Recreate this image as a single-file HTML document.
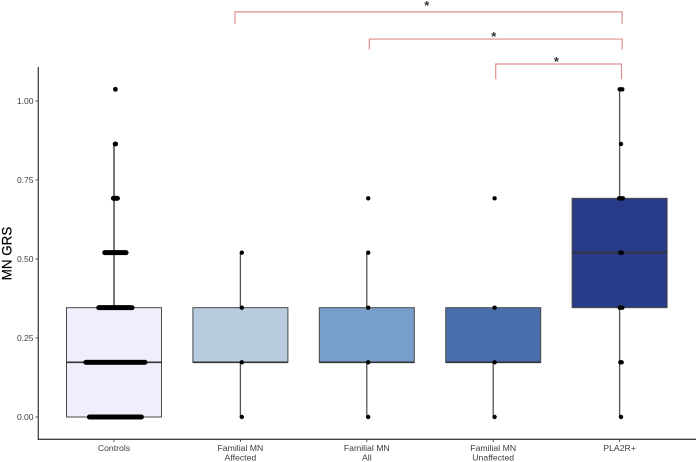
<!DOCTYPE html>
<html>
<head>
<meta charset="utf-8">
<style>
html,body{margin:0;padding:0;background:#fff;width:697px;height:462px;overflow:hidden}
svg{display:block;filter:blur(0.35px)}
text{font-family:"Liberation Sans",sans-serif}
</style>
</head>
<body>
<svg id="chart" width="697" height="462" viewBox="0 0 697 462" xmlns="http://www.w3.org/2000/svg"></svg>
<script>
const categories = [["Controls"],["Familial MN","Affected"],["Familial MN","All"],["Familial MN","Unaffected"],["PLA2R+"]];
const fills = ["#eeeefd","#b9cbdf","#789ecb","#4a6eab","#283b88"];
const q1 = [0,0.173,0.173,0.173,0.346];
const medians = [0.173,0.173,0.173,0.173,0.52];
const q3 = [0.346,0.346,0.346,0.346,0.692];
const whiskerLow = [0,0,0,0,0];
const whiskerHigh = [0.864,0.52,0.52,0.346,1.037];
const levels = [0,0.173,0.346,0.52,0.692,0.864,1.037];
const countsControls = [88,100,57,37,8,2,1];
const countsAffected = [1,1,1,1,0,0,0];
const countsAll = [1,1,1,1,1,0,0];
const countsUnaffected = [1,1,1,0,1,0,0];
const countsPla2r = [1,2,3,2,4,1,3];
const yTicks = [0,0.25,0.5,0.75,1];
const yTickLabels = ["0.00","0.25","0.50","0.75","1.00"];
const bracketFrom = [0.957,2.02,3.02];
const bracketTo = [4.02,4.02,4.015];
const bracketLevel = [1.282,1.196,1.117];
const bracketDrop = [0.038,0.033,0.048];
const starAt = [2.475,3.005,3.5];
const starLift = [1.7,-2,-1.8];

const svg = document.getElementById('chart');
const NS = 'http://www.w3.org/2000/svg';
const x = i => 114 + i * 126.4;
const y = v => 417 - v * 316;
const dotOffset = 1.4, dotGap = 0.6, dotR = 2.4;

function mk(tag, attrs, parent){
  const el = document.createElementNS(NS, tag);
  for (const k in attrs) el.setAttribute(k, attrs[k]);
  (parent || svg).appendChild(el);
  return el;
}

// axes
const yAxis = mk('line',{x1:38.3,x2:38.3,y1:67,y2:439.8,stroke:'#444','stroke-width':1.3});


const xAxis = mk('line',{x1:37.7,x2:696,y1:439.3,y2:439.3,stroke:'#444','stroke-width':1.3});



yTicks.forEach((t,i)=>{
  const tick = mk('line',{x1:35.5,x2:38,y1:y(t),y2:y(t),stroke:'#444','stroke-width':0.9});
  
  
  const lab = mk('text',{x:33.5,y:y(t)+3,'text-anchor':'end','font-size':8.5,fill:'#3d3d3d'});
  lab.textContent = yTickLabels[i];
  
  
});

const yTitle = mk('text',{x:0,y:0,transform:'translate(11.5,253.5) rotate(-90)','text-anchor':'middle','font-size':13.4,fill:'#000',stroke:'#000','stroke-width':0.2});
yTitle.textContent = 'MN GRS';



// boxes
const boxW = 95;
categories.forEach((cat,i)=>{
  const cx = x(i);
  const whisk = mk('line',{x1:cx,x2:cx,y1:y(whiskerHigh[i]),y2:y(whiskerLow[i]),stroke:'#555','stroke-width':i===0?1.6:1.3});
  
  
  const box = mk('rect',{x:cx-boxW/2,y:y(q3[i]),width:boxW,height:y(q1[i])-y(q3[i]),fill:fills[i],stroke:'#4a4a4a','stroke-width':1});
  
  
  const med = mk('line',{x1:cx-boxW/2,x2:cx+boxW/2,y1:y(medians[i]),y2:y(medians[i]),stroke:'#333','stroke-width':1.7});
  
  

  const tick = mk('line',{x1:cx,x2:cx,y1:440,y2:442,stroke:'#444','stroke-width':0.9});
  
  
  cat.forEach((line,j)=>{
    const lab = mk('text',{x:cx,y:451+j*9.3,'text-anchor':'middle','font-size':8.7,fill:'#3d3d3d'});
    lab.textContent = line;
    
    
  });
});

// dots
[countsControls,countsAffected,countsAll,countsUnaffected,countsPla2r].forEach((counts,i)=>{
  counts.forEach((n,l)=>{
    for (let k=0;k<n;k++){
      const px = x(i) + dotOffset + (k-(n-1)/2)*(i===0?dotGap:1.3);
      const dot = mk('circle',{cx:px,cy:y(levels[l]),r:i===0?dotR:2.2,fill:'#000'});
      
      
    }
  });
});

// significance brackets
bracketFrom.forEach((f,i)=>{
  const yy = y(bracketLevel[i]), yd = y(bracketLevel[i]-bracketDrop[i]);
  const br = mk('path',{d:`M${x(f)} ${yd}V${yy}H${x(bracketTo[i])}V${yd}`,fill:'none',stroke:'#e08f8f','stroke-width':1.2});
  
  
  const st = mk('text',{x:x(starAt[i]),y:yy-starLift[i],'text-anchor':'middle','font-size':13,'font-weight':'bold',fill:'#333'});
  st.textContent = '*';
  
  
});
</script>
</body>
</html>
